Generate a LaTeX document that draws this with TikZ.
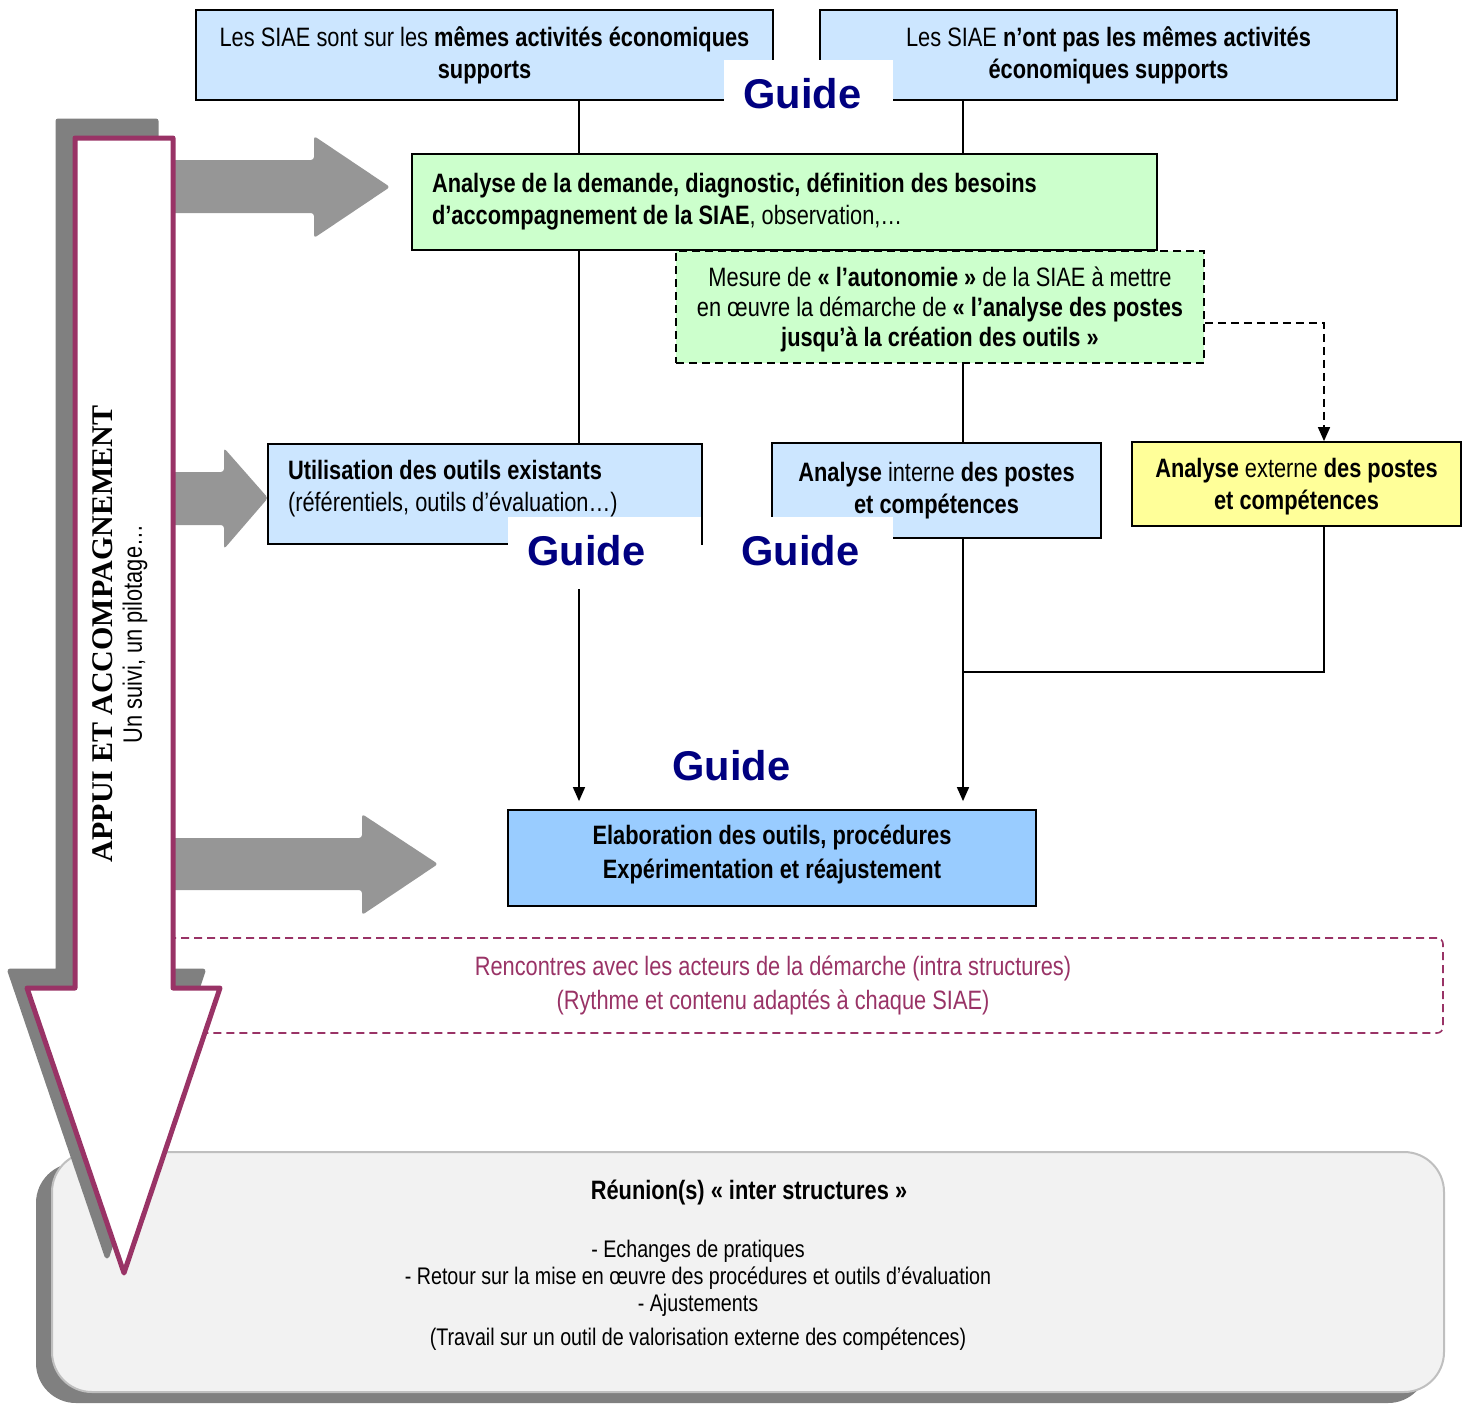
\documentclass[tikz,border=0pt]{standalone}
\usepackage{fontspec}
\setmainfont{Liberation Sans}[FakeStretch=0.82]
\newfontfamily\guidefont{Liberation Sans}
\newfontfamily\titlefont{Liberation Serif}
\usetikzlibrary{arrows.meta}

\definecolor{boxblue}{HTML}{CCE6FF}
\definecolor{elabblue}{HTML}{99CCFF}
\definecolor{boxgreen}{HTML}{CCFFCC}
\definecolor{boxyellow}{HTML}{FFFF99}
\definecolor{guideblue}{HTML}{000080}
\definecolor{plum}{HTML}{993366}
\definecolor{arrowgray}{HTML}{969696}
\definecolor{shadowgray}{HTML}{808080}
\definecolor{panelgray}{HTML}{F2F2F2}
\definecolor{panelline}{HTML}{BFBFBF}

\begin{document}
\begin{tikzpicture}[x=0.5pt, y=-0.5pt,
  >={Triangle[length=7pt,width=6pt]},
  box/.style={draw, line width=0.9pt, inner sep=0pt, align=center,
    font=\fontsize{13.3}{16}\selectfont},
  bluebox/.style={box, fill=boxblue},
  greenbox/.style={box, fill=boxgreen},
  guide/.style={fill=white, text=guideblue, inner ysep=0pt, align=flush left,
    text height=24pt, text depth=2pt, anchor=base west,
    font=\guidefont\bfseries\fontsize{20.8}{24}\selectfont},
  link/.style={line width=0.8pt},
  dashlink/.style={link, dash pattern=on 4pt off 2.5pt},
  fatarrow/.style={fill=arrowgray, rounded corners=1.5pt}]
  \useasboundingbox (0,0) rectangle (1472,1403);

  % Bottom panel
  \fill[shadowgray, rounded corners=20pt] (36,1163) rectangle (1428,1403);
  \node[draw=panelline, fill=panelgray, line width=1pt, rounded corners=20pt,
    minimum width=696pt, minimum height=120pt] (reunion) at (748,1272) {};
  \node[font=\fontsize{13.3}{16}\selectfont\bfseries] (reuniontitre) at (749,1192)
    {Réunion(s) « inter structures »};
  \node[align=center, font=\fontsize{12}{13.5}\selectfont] (reunionliste) at (698,1295)
    {- Echanges de pratiques\\
     - Retour sur la mise en œuvre des procédures et outils d’évaluation\\
     - Ajustements\\[3.5pt]
     (Travail sur un outil de valorisation externe des compétences)};

  % Intra structures
  \node[draw=plum, text=plum, dash pattern=on 4pt off 2.5pt, line width=0.8pt,
    rounded corners=3pt, minimum width=670pt, minimum height=47.5pt, align=center,
    font=\fontsize{13.3}{17}\selectfont] (rencontres) at (773,985.5)
    {Rencontres avec les acteurs de la démarche (intra structures)\\
     (Rythme et contenu adaptés à chaque SIAE)};

  % Gray arrows
  \fill[fatarrow] (160,160) -- (314,160) -- (314,136) -- (390,187) -- (314,238) -- (314,213) -- (160,213) -- cycle;
  \fill[fatarrow] (160,472) -- (224,472) -- (224,448) -- (268,498) -- (224,549) -- (224,525) -- (160,525) -- cycle;
  \fill[fatarrow] (160,838) -- (362,838) -- (362,814) -- (438,864) -- (362,915) -- (362,890) -- (160,890) -- cycle;

  % Big arrow
  \filldraw[shadowgray, line width=2.5pt, line join=round, shift={(-17,-17)}]
    (75,138) -- (173,138) -- (173,988) -- (220,988) -- (124,1273) -- (27,988) -- (75,988) -- cycle;
  \draw[plum, fill=white, line width=2.5pt, line join=round]
    (75,138) -- (173,138) -- (173,988) -- (220,988) -- (124,1273) -- (27,988) -- (75,988) -- cycle;
  \node[rotate=90, font=\titlefont\bfseries\fontsize{15}{18}\selectfont] (appui) at (103,634)
    {APPUI ET ACCOMPAGNEMENT};
  \node[rotate=90, font=\fontsize{13.3}{16}\selectfont] (suivi) at (135,634)
    {Un suivi, un pilotage…};

  % Boxes
  \node[bluebox, minimum width=288.5pt, minimum height=45pt] (memes) at (484.5,55)
    {Les SIAE sont sur les \textbf{mêmes activités économiques}\\\textbf{supports}};
  \node[bluebox, minimum width=288.5pt, minimum height=45pt] (pasmemes) at (1108.5,55)
    {Les SIAE \textbf{n’ont pas les mêmes activités}\\\textbf{économiques supports}};
  \node[greenbox, align=flush left, text width=352.5pt, inner xsep=10pt, minimum height=48pt] (analyse) at (784.5,202)
    {\textbf{Analyse de la demande, diagnostic, définition des besoins}\\
     \textbf{d’accompagnement de la SIAE}, observation,…};
  \node[greenbox, dash pattern=on 4pt off 2.5pt, minimum width=264pt, minimum height=56pt,
    text depth=0pt, font=\fontsize{13.3}{15}\selectfont] (autonomie) at (940,307)
    {Mesure de \textbf{« l’autonomie »} de la SIAE à mettre\\
     en œuvre la démarche de \textbf{« l’analyse des postes}\\
     \textbf{jusqu’à la création des outils »}};
  \node[bluebox, align=flush left, text width=197pt, inner xsep=10pt, minimum height=50pt,
    text depth=24pt] (outils) at (485,494)
    {\textbf{Utilisation des outils existants}\\(référentiels, outils d’évaluation…)};
  \node[bluebox, minimum width=164.5pt, minimum height=47.5pt] (interne) at (936.5,490.5)
    {\textbf{Analyse} interne \textbf{des postes}\\\textbf{et compétences}};
  \node[box, fill=boxyellow, minimum width=164.5pt, minimum height=42pt,
    text depth=0pt] (externe) at (1296.5,484)
    {\textbf{Analyse} externe \textbf{des postes}\\\textbf{et compétences}};
  \node[box, fill=elabblue, minimum width=264pt, minimum height=48pt,
    text depth=6pt, font=\fontsize{13.3}{17}\selectfont] (elaboration) at (772,858)
    {\textbf{Elaboration des outils, procédures}\\\textbf{Expérimentation et réajustement}};

  % Guides
  \node[guide, inner xsep=9.5pt, text width=65.5pt] (guidehaut) at (724,108) {Guide};
  \node[guide, inner xsep=9.5pt, text width=77.5pt] (guideoutils) at (508,565) {Guide};
  \node[guide, inner xsep=19pt, text width=57pt] (guideinterne) at (703,565) {Guide};
  \node[guide, inner xsep=9.5pt, text width=59pt] (guideelab) at (653,780) {Guide};

  % Connectors
  \coordinate (colA) at (579,0);
  \coordinate (colB) at (963,0);
  \coordinate (colC) at (1324,0);
  \coordinate (merge) at (963,672);
  \draw[link] (memes.south -| colA) -- (analyse.north -| colA);
  \draw[link] (pasmemes.south -| colB) -- (analyse.north -| colB);
  \draw[link] (analyse.south -| colA) -- (outils.north -| colA);
  \draw[link] (autonomie.south -| colB) -- (interne.north -| colB);
  \draw[dashlink, ->] ([yshift=-8pt]autonomie.east) -| (externe.north -| colC);
  \draw[link] (externe.south -| colC) |- (merge);
  \draw[link, ->, shorten >=4pt] (interne.south -| colB) -- (elaboration.north -| colB);
  \draw[link, ->, shorten <=10pt, shorten >=4pt] (guideoutils.south -| colA) -- (elaboration.north -| colA);
\end{tikzpicture}
\end{document}
